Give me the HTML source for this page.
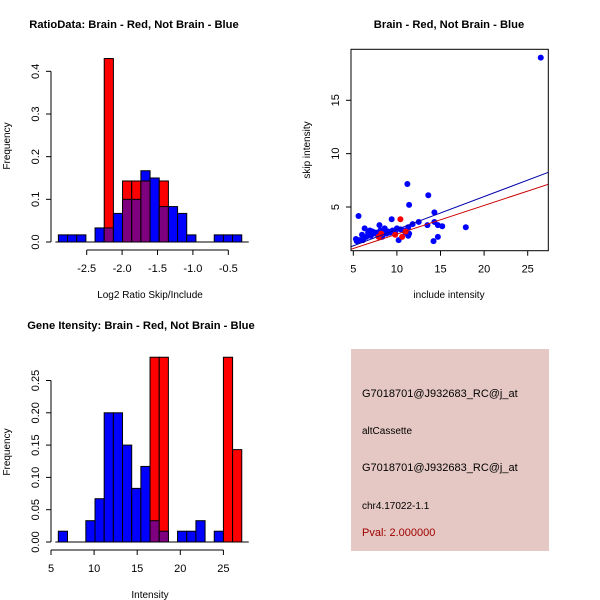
<!DOCTYPE html>
<html><head><meta charset="utf-8"><style>
body{margin:0;background:#fff}
svg{display:block;font-family:"Liberation Sans",sans-serif}
</style></head><body>
<svg id="c" width="600" height="600" xmlns="http://www.w3.org/2000/svg">
<rect width="600" height="600" fill="#fff"/>
<text x="134" y="28" font-size="11.2" font-weight="bold" text-anchor="middle">RatioData: Brain - Red, Not Brain - Blue</text>
<text x="449" y="28" font-size="11.2" font-weight="bold" text-anchor="middle">Brain - Red, Not Brain - Blue</text>
<text x="141" y="329" font-size="11.2" font-weight="bold" text-anchor="middle">Gene Itensity: Brain - Red, Not Brain - Blue</text>
<g>
<rect x="351" y="349" width="198" height="202" fill="#e5c8c3"/>
<text x="362" y="397" font-size="11">G7018701@J932683_RC@j_at</text>
<text x="362" y="434" font-size="10">altCassette</text>
<text x="362" y="471" font-size="11">G7018701@J932683_RC@j_at</text>
<text x="362" y="509" font-size="10">chr4.17022-1.1</text>
<text x="362" y="536" font-size="11" fill="#a00000">Pval: 2.000000</text>
</g>
</svg>
<script>
// ---- Ratio histogram data ----
const ratioBinStart = -2.9;
const ratioBinWidth = 0.1295;
const ratioBlue = [0.0167,0.0167,0.0167,0,0.033,0.033,0.067,0.1,0.1,0.167,0.15,0.083,0.083,0.067,0.0167,0,0,0.0167,0.0167,0.0167];
const ratioRed  = [0,0,0,0,0,0.43,0,0.143,0.143,0.143,0,0.143,0,0,0,0,0,0,0,0];
const ratioXTicks = [-2.5,-2.0,-1.5,-1.0,-0.5];
const ratioXTickLabels = ["-2.5","-2.0","-1.5","-1.0","-0.5"];
const ratioYTicks = [0,0.1,0.2,0.3,0.4];
const ratioYTickLabels = ["0.0","0.1","0.2","0.3","0.4"];
// ---- Intensity histogram data ----
const intBinStart = 5.85;
const intBinWidth = 1.064;
const intBlue = [0.0167,0,0,0.033,0.067,0.2,0.2,0.15,0.083,0.117,0.033,0.0167,0,0.0167,0.0167,0.033,0,0.0167,0,0];
const intRed  = [0,0,0,0,0,0,0,0,0,0,0.286,0.286,0,0,0,0,0,0,0.286,0.143];
const intXTicks = [5,10,15,20,25];
const intXTickLabels = ["5","10","15","20","25"];
const intYTicks = [0,0.05,0.1,0.15,0.2,0.25];
const intYTickLabels = ["0.00","0.05","0.10","0.15","0.20","0.25"];
// ---- Scatter data ----
const blueX = [26.5,11.2,13.6,11.4,5.6,14.3,9.4,17.9,13.5,14.3,14.7,15.2,14.7,14.2,10.2,12.5,11.8,11.3,11.4,11.3,5.3,5.4,5.7,6.0,6.1,6.3,6.5,6.7,6.9,7.0,7.3,7.6,7.8,8.0,8.1,8.3,8.5,8.8,9.0,9.5,9.8,10.0,10.4,10.8,11.0,6.2,7.2,8.6,9.2];
const blueY = [19.0,7.16,6.1,5.2,4.16,4.5,3.85,3.1,3.3,3.6,3.3,3.2,2.2,1.8,1.9,3.6,3.4,3.1,2.5,2.3,2.0,1.8,1.9,2.4,1.9,3.0,2.2,2.6,2.8,2.3,2.5,2.6,2.4,3.3,2.8,2.2,2.7,2.5,2.7,2.8,2.6,3.0,2.9,2.8,2.6,2.1,2.7,3.0,2.6];
const redX = [10.4,10.6,7.9,8.2,9.8,11.0];
const redY = [3.85,2.2,2.2,2.5,2.4,2.7];
const blueFit = [-0.18,0.308]; // intercept, slope
const redFit = [-0.235,0.269];
const scXTicks = [5,10,15,20,25];
const scXTickLabels = ["5","10","15","20","25"];
const scYTicks = [5,10,15];
const scYTickLabels = ["5","10","15"];

const svg = document.getElementById('c');
const NS = 'http://www.w3.org/2000/svg';
function mk(tag, attrs, parent){const e=document.createElementNS(NS,tag);for(const k in attrs)e.setAttribute(k,attrs[k]);(parent||svg).appendChild(e);return e;}
function txt(x,y,s,size,anchor,rot,parent){const t=mk('text',{x:x,y:y,'font-size':size,'text-anchor':anchor||'middle'},parent);if(rot)t.setAttribute('transform','rotate(-90 '+x+' '+y+')');t.textContent=s;return t;}

function hist(opts){
  const g=mk('g',{});
  
  
  const X=v=>opts.xp0+(v-opts.xv0)*opts.xs;
  const Y=v=>opts.y0-v*opts.ys;
  for(let i=0;i<opts.blue.length;i++){
    const b=opts.blue[i], r=opts.red[i];
    const xl=X(opts.bs+i*opts.bw), xr=X(opts.bs+(i+1)*opts.bw);
    const mx=Math.max(b,r), mn=Math.min(b,r);
    if(mx<=0) continue;
    const bar=mk('rect',{x:xl,y:Y(mx),width:xr-xl,height:Y(0)-Y(mx),fill:b>=r?'#0000ff':'#ff0000',stroke:'#000','stroke-width':1},g);
    
    
    if(mn>0){
      const p=mk('rect',{x:xl,y:Y(mn),width:xr-xl,height:Y(0)-Y(mn),fill:'#7f007f',stroke:'#000','stroke-width':1},g);
      
      
    }
  }
  mk('line',{x1:X(opts.bs)-3,x2:X(opts.bs+opts.blue.length*opts.bw)+7,y1:opts.y0,y2:opts.y0,stroke:'#000'},g);
  const xa=mk('g',{},g);
  
  
  const ay=opts.y0+8;
  mk('line',{x1:X(opts.xt[0]),x2:X(opts.xt[opts.xt.length-1]),y1:ay,y2:ay,stroke:'#000'},xa);
  opts.xt.forEach((v,i)=>{mk('line',{x1:X(v),x2:X(v),y1:ay,y2:ay+5,stroke:'#000'},xa);txt(X(v),ay+22,opts.xl[i],11,'middle',false,xa);});
  const ya=mk('g',{},g);
  
  
  mk('line',{x1:opts.x0,x2:opts.x0,y1:Y(opts.yt[0]),y2:Y(opts.yt[opts.yt.length-1]),stroke:'#000'},ya);
  opts.yt.forEach((v,i)=>{mk('line',{x1:opts.x0,x2:opts.x0-5,y1:Y(v),y2:Y(v),stroke:'#000'},ya);txt(opts.x0-12,Y(v),opts.yl[i],11,'middle',true,ya);});
  txt(opts.xtitleX,opts.y0+56,opts.xtitle,10,'middle',false,g);
  txt(10,opts.y0-(opts.ytitleMid),'Frequency',10,'middle',true,g);
}
hist({name:'ratio-histogram',x0:51,xp0:86.7,y0:242,xv0:-2.5,xs:70.8,ys:426.7,bs:ratioBinStart,bw:ratioBinWidth,blue:ratioBlue,red:ratioRed,xt:ratioXTicks,xl:ratioXTickLabels,yt:ratioYTicks,yl:ratioYTickLabels,xtitle:'Log2 Ratio Skip/Include',xtitleX:150,ytitleMid:96});
hist({name:'intensity-histogram',x0:51,xp0:51,y0:542,xv0:5,xs:8.62,ys:646,bs:intBinStart,bw:intBinWidth,blue:intBlue,red:intRed,xt:intXTicks,xl:intXTickLabels,yt:intYTicks,yl:intYTickLabels,xtitle:'Intensity',xtitleX:150,ytitleMid:90});

(function(){
  const g=mk('g',{});
  
  
  const L=351,R=548.3,T=49.3,B=250.7;
  const X=v=>353.3+(v-5)*8.72, Y=v=>207-(v-5)*10.67;
  const cp=mk('clipPath',{id:'sc'},g);mk('rect',{x:L,y:T,width:R-L,height:B-T},cp);
  const pts=mk('g',{'clip-path':'url(#sc)'},g);
  blueX.forEach((x,i)=>{const c=mk('circle',{cx:X(x),cy:Y(blueY[i]),r:3,fill:'#0000ff'},pts);
    
    });
  redX.forEach((x,i)=>{const c=mk('circle',{cx:X(x),cy:Y(redY[i]),r:3,fill:'#ff0000'},pts);
    
    });
  const xa=4.5,xb=28;
  const bl=mk('line',{x1:X(xa),y1:Y(blueFit[0]+blueFit[1]*xa),x2:X(xb),y2:Y(blueFit[0]+blueFit[1]*xb),stroke:'#0000aa'},pts);
  
  
  const rl=mk('line',{x1:X(xa),y1:Y(redFit[0]+redFit[1]*xa),x2:X(xb),y2:Y(redFit[0]+redFit[1]*xb),stroke:'#cc0000'},pts);
  
  
  mk('rect',{x:L,y:T,width:R-L,height:B-T,fill:'none',stroke:'#000'},g);
  scXTicks.forEach((v,i)=>{mk('line',{x1:X(v),x2:X(v),y1:B,y2:B+5,stroke:'#000'},g);txt(X(v),B+22,scXTickLabels[i],11,'middle',false,g);});
  scYTicks.forEach((v,i)=>{mk('line',{x1:L,x2:L-5,y1:Y(v),y2:Y(v),stroke:'#000'},g);txt(L-12,Y(v),scYTickLabels[i],11,'middle',true,g);});
  const xt=txt(449,298,'include intensity',10,'middle',false,g);
  
  const yt=txt(310,150,'skip intensity',10,'middle',true,g);
  
})();
</script>
</body></html>
